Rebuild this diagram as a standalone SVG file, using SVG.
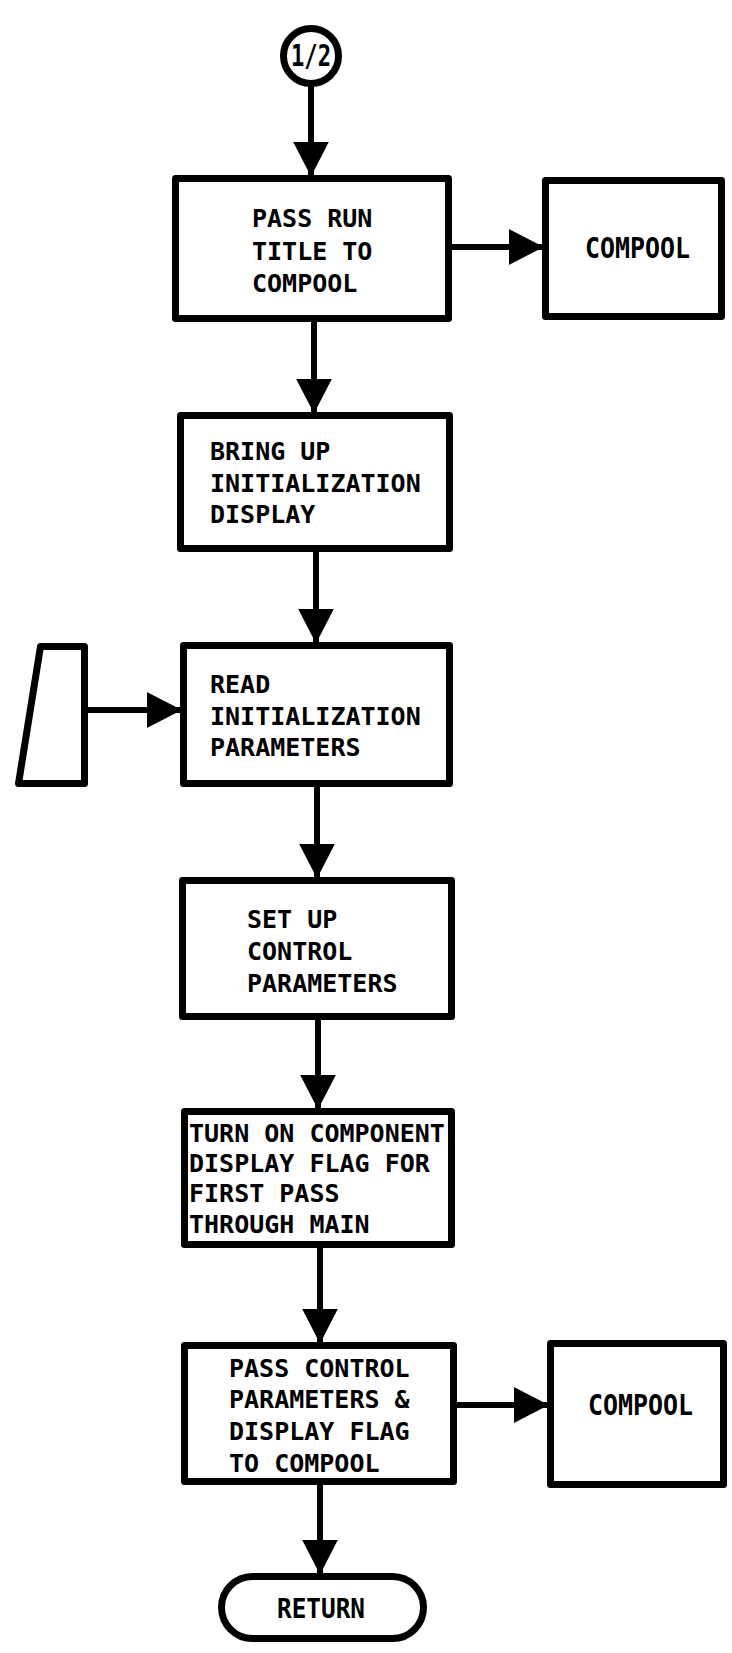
<svg xmlns="http://www.w3.org/2000/svg" width="732" height="1653" viewBox="0 0 732 1653">
<style>
.box{fill:#fff;stroke:#000;stroke-width:7;stroke-linejoin:round}
.ln{fill:none;stroke:#000;stroke-width:6}
.t{font-family:"DejaVu Sans Mono","Liberation Mono",monospace;font-weight:bold;font-size:25px;fill:#000}
.tc{font-family:"DejaVu Sans Mono","Liberation Mono",monospace;font-weight:bold;font-size:28px;fill:#000}
</style>
<defs>
<marker id="ah" markerUnits="userSpaceOnUse" markerWidth="34" markerHeight="36" refX="33" refY="18" orient="auto" viewBox="0 0 34 36">
<path d="M0,1 L33,18 L0,35 z" fill="#000" stroke="#000" stroke-width="1.5" stroke-linejoin="round"/>
</marker>
</defs>
<rect width="732" height="1653" fill="#fff"/>
<g id="connectors">
<line class="ln" x1="311" y1="86" x2="311" y2="175" marker-end="url(#ah)"/>
<line class="ln" x1="314" y1="322" x2="314" y2="412" marker-end="url(#ah)"/>
<line class="ln" x1="316" y1="552" x2="316" y2="642" marker-end="url(#ah)"/>
<line class="ln" x1="317" y1="787" x2="317" y2="877" marker-end="url(#ah)"/>
<line class="ln" x1="318" y1="1020" x2="318" y2="1108" marker-end="url(#ah)"/>
<line class="ln" x1="320" y1="1248" x2="320" y2="1342" marker-end="url(#ah)"/>
<line class="ln" x1="320" y1="1485" x2="320" y2="1573" marker-end="url(#ah)"/>
<line class="ln" x1="452" y1="247" x2="542" y2="247" marker-end="url(#ah)"/>
<line class="ln" x1="457" y1="1405" x2="547" y2="1405" marker-end="url(#ah)"/>
<line class="ln" x1="88" y1="710" x2="180" y2="710" marker-end="url(#ah)"/>
</g>
<g id="start">
<circle cx="311" cy="56" r="27.5" fill="#fff" stroke="#000" stroke-width="7"/>
<text class="t" x="311" y="66" text-anchor="middle" textLength="40" lengthAdjust="spacingAndGlyphs" style="font-size:30px">1/2</text>
</g>
<g id="pass-run-title">
<rect class="box" x="175.5" y="178.5" width="273" height="140"/>
<text class="t" x="252" y="227">PASS RUN</text>
<text class="t" x="252" y="260">TITLE TO</text>
<text class="t" x="252" y="292">COMPOOL</text>
</g>
<g id="compool-1">
<rect class="box" x="545.5" y="180.5" width="176" height="136"/>
<text class="tc" x="585" y="258" textLength="105" lengthAdjust="spacingAndGlyphs">COMPOOL</text>
</g>
<g id="bring-up-display">
<rect class="box" x="180.5" y="415.5" width="269" height="133"/>
<text class="t" x="210" y="460">BRING UP</text>
<text class="t" x="210" y="492">INITIALIZATION</text>
<text class="t" x="210" y="523">DISPLAY</text>
</g>
<g id="manual-input">
<polygon class="box" points="40.5,646.5 84.5,646.5 84.5,783.5 18.5,783.5"/>
</g>
<g id="read-parameters">
<rect class="box" x="183.5" y="645.5" width="266" height="138"/>
<text class="t" x="210" y="693">READ</text>
<text class="t" x="210" y="725">INITIALIZATION</text>
<text class="t" x="210" y="756">PARAMETERS</text>
</g>
<g id="set-up-control">
<rect class="box" x="182.5" y="880.5" width="269" height="136"/>
<text class="t" x="247" y="928">SET UP</text>
<text class="t" x="247" y="960">CONTROL</text>
<text class="t" x="247" y="992">PARAMETERS</text>
</g>
<g id="turn-on-flag">
<rect class="box" x="184.5" y="1111.5" width="267" height="133"/>
<text class="t" x="189" y="1142">TURN ON COMPONENT</text>
<text class="t" x="189" y="1172">DISPLAY FLAG FOR</text>
<text class="t" x="189" y="1202">FIRST PASS</text>
<text class="t" x="189" y="1233">THROUGH MAIN</text>
</g>
<g id="pass-control">
<rect class="box" x="184.5" y="1345.5" width="269" height="136"/>
<text class="t" x="229" y="1377">PASS CONTROL</text>
<text class="t" x="229" y="1408">PARAMETERS &amp;</text>
<text class="t" x="229" y="1440">DISPLAY FLAG</text>
<text class="t" x="229" y="1472">TO COMPOOL</text>
</g>
<g id="compool-2">
<rect class="box" x="550.5" y="1343.5" width="173" height="141"/>
<text class="tc" x="588" y="1415" textLength="105" lengthAdjust="spacingAndGlyphs">COMPOOL</text>
</g>
<g id="return">
<rect class="box" x="221.5" y="1576.5" width="202" height="62" rx="31" ry="31"/>
<text class="t" x="321" y="1618" text-anchor="middle" style="font-size:27px" textLength="88" lengthAdjust="spacingAndGlyphs">RETURN</text>
</g>
</svg>
